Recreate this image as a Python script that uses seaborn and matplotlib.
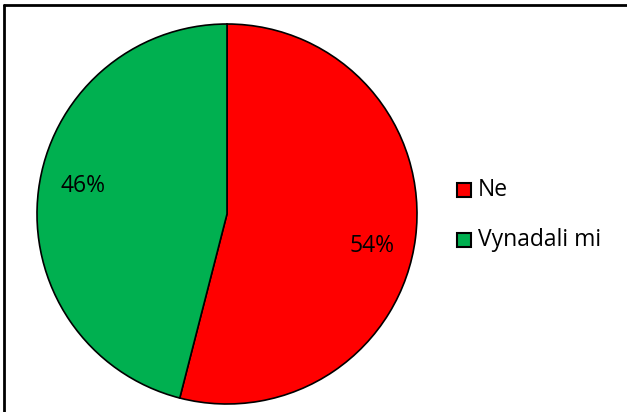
import matplotlib
matplotlib.use("Agg")
import matplotlib.pyplot as plt
import seaborn as sns
from matplotlib.patches import Rectangle

sns.set_theme(style="white")
plt.rcParams['font.family'] = ['Open Sans', 'DejaVu Sans']

categories = ["Ne", "Vynadali mi"]
values = [54, 46]
pct_labels = ["54%", "46%"]
colors = ["#FF0000", "#00B050"]

W, H = 627, 412
fig = plt.figure(figsize=(W / 100, H / 100), dpi=100)
fig.patch.set_facecolor("white")

# frame (top and left lines visible)
fig.add_artist(plt.Line2D([4 / W, 4 / W], [0, 1 - 5 / H], color="black", lw=2,
                          transform=fig.transFigure))
fig.add_artist(plt.Line2D([4 / W, 1], [1 - 5 / H, 1 - 5 / H], color="black", lw=2,
                          transform=fig.transFigure))

cx, cy, r = 227, 214, 190
ax = fig.add_axes([(cx - r) / W, (H - cy - r) / H, 2 * r / W, 2 * r / H])
wedges, _ = ax.pie(values, colors=colors, startangle=90, counterclock=False,
                   radius=1.0, wedgeprops=dict(edgecolor="black", linewidth=1.2))
ax.set_xlim(-1.0, 1.0)
ax.set_ylim(-1.0, 1.0)
ax.set_aspect("equal")
ax.axis("off")

# percentage labels placed in pixel positions
label_pos = [(372, 246), (83, 186)]
for (px, py), txt in zip(label_pos, pct_labels):
    fig.text(px / W, 1 - py / H, txt, ha="center", va="center", fontsize=16.5, color="black")

# legend
leg_y = [190, 240]
for y, c, name in zip(leg_y, colors, categories):
    fig.add_artist(Rectangle(((457) / W, 1 - (y + 7) / H), 14 / W, 14 / H,
                             facecolor=c, edgecolor="black", lw=1.5,
                             transform=fig.transFigure))
    fig.text(478 / W, 1 - y / H, name, ha="left", va="center", fontsize=16.5, color="black")

fig.savefig("out.png", dpi=100, facecolor="white")
